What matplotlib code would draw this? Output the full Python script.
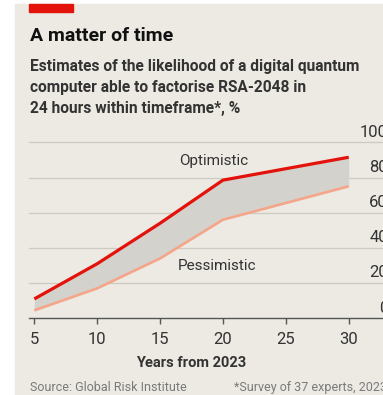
import matplotlib

matplotlib.use("Agg")
import matplotlib.pyplot as plt
from matplotlib.patches import Rectangle

# data
years = [5, 10, 15, 20, 25, 30]
optimistic = [11, 31, 54, 78.5, 85, 91.5]
pessimistic = [4.5, 17, 34, 56, 65.5, 75]
y_ticks = [0, 20, 40, 60, 80, 100]
x_ticks = [5, 10, 15, 20, 25, 30]

W, H = 383, 395
BG = "#ECEAE3"
plt.rcParams["font.family"] = ["Roboto", "DejaVu Sans"]


def fx(px):
    return px / W


def fy(py):
    return 1 - py / H


fig = plt.figure(figsize=(W / 100, H / 100), dpi=100)
fig.patch.set_facecolor("white")
# beige panel, white strip on the left/top like the source
fig.add_artist(
    Rectangle((fx(15), 0), 1, fy(4), transform=fig.transFigure, color=BG, zorder=-2)
)
fig.add_artist(
    Rectangle((fx(29), fy(11.5)), fx(44), 7.5 / H, transform=fig.transFigure,
              color="#E3120B", zorder=-1)
)

# axes: x=5 at px 34.3, 12.576 px per year; y 0..100 from px 318.3 to 142.3
left_px, right_px = 29, 388
ax = fig.add_axes([fx(left_px), fy(318.3), (right_px - left_px) / W, (318.3 - 142.3) / H])
ax.set_facecolor("none")
ax.set_zorder(2)
x0 = 5 - (34.3 - left_px) / 12.576
x1 = 5 + (right_px - 34.3) / 12.576
ax.set_xlim(x0, x1)
ax.set_ylim(0, 100)

for t in y_ticks:
    if t > 0:
        ax.axhline(t, color="#CDCAC2", lw=0.9, zorder=1, clip_on=False)
    ax.text(1.0, t + 1.5, str(t), transform=ax.get_yaxis_transform(),
            ha="right", va="bottom", fontsize=12, color="#333333", clip_on=False)

ax.fill_between(years, pessimistic, optimistic, color="#D3D2CD", lw=0, zorder=2)
ax.plot(years, pessimistic, color="#F5A58A", lw=1.9, zorder=3, solid_capstyle="butt")
ax.plot(years, optimistic, color="#E3120B", lw=2.3, zorder=4, solid_capstyle="butt")

ax.text(19.3, 89.5, "Optimistic", ha="center", va="center", fontsize=11, color="#333333")
ax.text(19.5, 29.5, "Pessimistic", ha="center", va="center", fontsize=11, color="#333333")

for s in ["left", "right", "top"]:
    ax.spines[s].set_visible(False)
ax.spines["bottom"].set_color("#555555")
ax.spines["bottom"].set_linewidth(1.0)
ax.set_yticks([])
ax.set_xticks(x_ticks)
ax.set_xticklabels([str(t) for t in x_ticks])
ax.tick_params(axis="x", length=4, width=1.0, color="#555555", pad=6,
               labelsize=12, labelcolor="#333333")

ax.text(17.5, -(367.3 - 318.3) / 1.76, "Years from 2023", ha="center",
        va="baseline", fontsize=10.5, fontweight="bold", color="#333333", clip_on=False)

fig.text(fx(30), fy(41), "A matter of time", fontsize=14, fontweight="bold",
         color="#111111", va="baseline")
sub = [
    "Estimates of the likelihood of a digital quantum",
    "computer able to factorise RSA-2048 in",
    "24 hours within timeframe*, %",
]
for i, line in enumerate(sub):
    fig.text(fx(30), fy(71 + 21 * i), line, fontsize=11.2, fontweight="bold",
             color="#333333", va="baseline")

fig.text(fx(30), fy(391), "Source: Global Risk Institute", fontsize=9,
         color="#7A7A7A", va="baseline")
fig.text(fx(234), fy(391), "*Survey of 37 experts, 2023", fontsize=9,
         color="#7A7A7A", va="baseline")

fig.savefig("out.png", dpi=100, facecolor=fig.get_facecolor())
